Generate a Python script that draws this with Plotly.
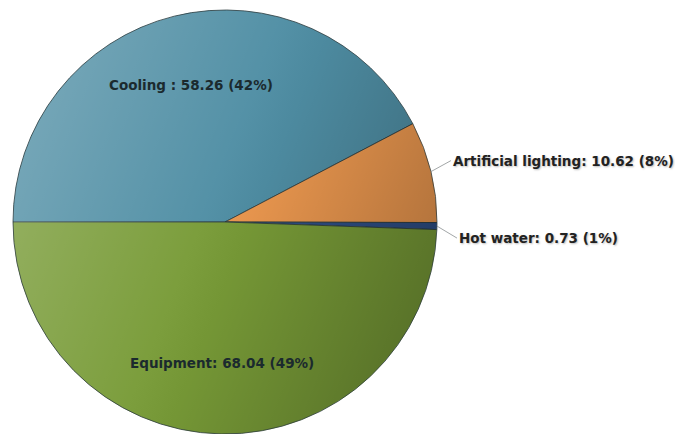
import base64
import math
import plotly.graph_objects as go

# Energy use breakdown
labels = ["Cooling", "Artificial lighting", "Hot water", "Equipment"]
values = [58.26, 10.62, 0.73, 68.04]
percents = ["42%", "8%", "1%", "49%"]
label_text = [
    "Cooling : 58.26 (42%)",
    "Artificial lighting: 10.62 (8%)",
    "Hot water: 0.73 (1%)",
    "Equipment: 68.04 (49%)",
]
colors = ["#4f8ea4", "#ec984f", "#2f4f86", "#789b37"]

W, H = 675, 434
CX, CY, R = 225, 222, 212  # pie centre and radius in pixels
ROTATION = -90  # first slice starts at 9 o'clock, going clockwise

# label placement: inside (radius fraction) or outside (pixel offset of text)
inside = {0: 0.665, 3: 0.665}
outside = {1: (20, -11), 2: (20, 12)}

dom_x = [(CX - R) / W, (CX + R) / W]
dom_y = [1 - (CY + R) / H, 1 - (CY - R) / H]

fig = go.Figure(
    go.Pie(
        labels=labels,
        values=values,
        sort=False,
        direction="clockwise",
        rotation=ROTATION,
        marker=dict(colors=colors, line=dict(color="#2b3a3c", width=0.8)),
        textinfo="none",
        hoverinfo="label+value+percent",
        domain=dict(x=dom_x, y=dom_y),
        showlegend=False,
    )
)

# soft light-to-dark shading across the disc
svg = (
    "<svg xmlns='http://www.w3.org/2000/svg' width='424' height='424' viewBox='0 0 424 424'>"
    "<defs><linearGradient id='g' x1='0' y1='0.3' x2='1' y2='0.7'>"
    "<stop offset='0' stop-color='#ffffff' stop-opacity='0.22'/>"
    "<stop offset='0.45' stop-color='#ffffff' stop-opacity='0.03'/>"
    "<stop offset='0.55' stop-color='#000000' stop-opacity='0.03'/>"
    "<stop offset='1' stop-color='#000000' stop-opacity='0.27'/>"
    "</linearGradient></defs>"
    "<circle cx='212' cy='212' r='211.5' fill='url(#g)'/></svg>"
)
fig.add_layout_image(
    source="data:image/svg+xml;base64," + base64.b64encode(svg.encode()).decode(),
    xref="paper", yref="paper",
    x=dom_x[0], y=dom_y[1],
    sizex=dom_x[1] - dom_x[0], sizey=dom_y[1] - dom_y[0],
    xanchor="left", yanchor="top", sizing="stretch", layer="above",
)

total = sum(values)
start = ROTATION
font = dict(family="DejaVu Sans, Verdana, sans-serif", size=13.5, color="#1b2a2e", weight="bold")
for i, v in enumerate(values):
    span = 360 * v / total
    mid = math.radians(start + span / 2)
    start += span
    if i in inside:
        r = inside[i] * R
        px = CX + r * math.sin(mid)
        py = CY - r * math.cos(mid)
        fig.add_annotation(
            x=px / W, y=1 - py / H, xref="paper", yref="paper",
            text=label_text[i], showarrow=False, font=font,
            xanchor="center", yanchor="middle",
        )
    else:
        px = CX + R * math.sin(mid)
        py = CY - R * math.cos(mid)
        ax, ay = outside[i]
        fig.add_annotation(
            x=px / W, y=1 - py / H, xref="paper", yref="paper",
            text=label_text[i], showarrow=True, arrowhead=0,
            arrowwidth=0.8, arrowcolor="#8a8f90", standoff=0,
            ax=ax, ay=ay, xanchor="left", yanchor="middle",
            font=dict(font, color="#222222", shadow="1px 1px 2px #bbbbbb"),
        )

fig.update_layout(
    width=W, height=H,
    margin=dict(l=0, r=0, t=0, b=0),
    paper_bgcolor="white",
    plot_bgcolor="white",
)

fig.write_html("out.html")
